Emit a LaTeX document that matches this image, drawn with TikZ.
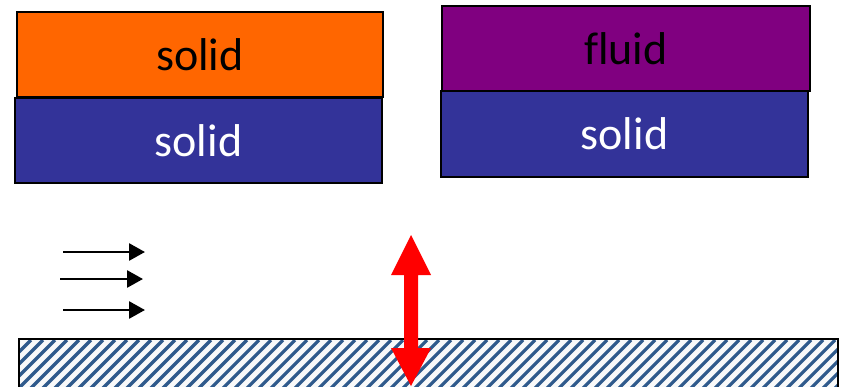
\documentclass[tikz,border=0pt]{standalone}
\usepackage{fontspec}
\setmainfont{Carlito}[Ligatures=NoCommon]
\usetikzlibrary{arrows.meta}
\definecolor{orangeblk}{HTML}{FF6600}
\definecolor{blueblk}{HTML}{333399}
\definecolor{purpleblk}{HTML}{800080}
\definecolor{hatchblue}{HTML}{2F5A8C}
\definecolor{hatchbg}{HTML}{F8F9FA}
\tikzset{
  layer/.style={draw=black, line width=1.5pt, rectangle, inner sep=0pt,
    font=\fontsize{46}{50}\selectfont},
  flowarrow/.style={line width=2.7pt, -{Triangle[length=16pt,width=17pt]}},
}
\begin{document}
\begin{tikzpicture}[x=1pt,y=-1pt]
  \useasboundingbox (0,0) rectangle (842,386);

  % left stack: solid on solid
  \node[layer, fill=orangeblk, text=black, minimum width=366pt, minimum height=85pt]
    (ltop) at (200,54.5) {solid};
  \node[layer, fill=blueblk, text=white, minimum width=367pt, minimum height=85pt]
    (lbot) at (198.5,140.5) {solid};

  % right stack: fluid on solid
  \node[layer, fill=purpleblk, text=black, minimum width=368pt, minimum height=85pt]
    (rtop) at (626,48.5) {fluid};
  \node[layer, fill=blueblk, text=white, minimum width=367pt, minimum height=86pt]
    (rbot) at (624.5,134) {solid};

  % hatched wall
  \begin{scope}
    \clip (19,339) rectangle (838,392);
    \fill[hatchbg] (19,339) rectangle (838,392);
    \foreach \k in {0,...,76} {
      \draw[hatchblue, line width=3.2pt] ({19+12*\k-60},400) -- ({19+12*\k},340);
    }
  \end{scope}
  \draw[black, line width=1.2pt] (19,392) -- (19,339) -- (838,339) -- (838,392);

  % flow arrows
  \coordinate (f1s) at (63,252);  \coordinate (f1e) at (145,252);
  \coordinate (f2s) at (60,279);  \coordinate (f2e) at (143,279);
  \coordinate (f3s) at (63,310);  \coordinate (f3e) at (145,310);
  \draw[flowarrow] (f1s) -- (f1e);
  \draw[flowarrow] (f2s) -- (f2e);
  \draw[flowarrow] (f3s) -- (f3e);

  % red double-headed arrow
  \coordinate (vtop) at (411,235);
  \coordinate (vbot) at (411,386);
  \fill[red] (vtop) -- ++(20,40) -- ++(-13,0) -- (418,348) -- (431,348)
    -- (vbot) -- (391,348) -- (404,348) -- (404,275) -- (391,275) -- cycle;
\end{tikzpicture}
\end{document}
